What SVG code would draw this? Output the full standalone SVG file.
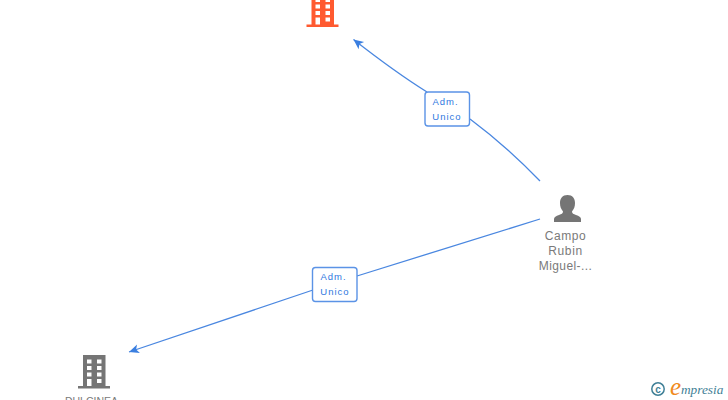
<svg xmlns="http://www.w3.org/2000/svg" width="728" height="400" viewBox="0 0 728 400">
<style>
.lbl{font-family:"Liberation Sans",Arial,sans-serif;font-size:9.5px;fill:#2f78e0;text-anchor:middle;letter-spacing:1px}
.nm{font-family:"Liberation Sans",Arial,sans-serif;font-size:12px;fill:#7a7a7a;text-anchor:middle;letter-spacing:.6px}
.box{fill:#fff;stroke:#5b93e6;stroke-width:1.4}
.edge{fill:none;stroke:#4a87e0;stroke-width:1.3}
</style>
<defs>
<g id="bld">
<path fill-rule="evenodd" d="M83 355H105.500V386H110V388.500H78V386H83ZM87 359.500V363.500H91.500V359.500ZM97 359.500V363.500H101.500V359.500ZM87 366V370H91.500V366ZM97 366V370H101.500V366ZM87 372.500V376.500H91.500V372.500ZM97 372.500V376.500H101.500V372.500ZM87 379V386H91.500V379ZM97 379V383H101.500V379Z"/>
</g>
<marker id="ah" viewBox="0 0 11 10" refX="0" refY="5" markerWidth="11" markerHeight="10" markerUnits="userSpaceOnUse" orient="auto"><path d="M0 5L10 0.500L7.500 5L10 9.500Z" fill="#3b7fe0"/></marker>
</defs>
<g id="connectors">
<path class="edge" marker-start="url(#ah)" d="M353.500 39.500Q395 72 427 92"/>
<path class="edge" d="M470 119Q505 145 540 181"/>
<path class="edge" marker-start="url(#ah)" d="M129 352L313 290"/>
<path class="edge" d="M357 276L540 219"/>
</g>
<g id="node-top"><use href="#bld" fill="#ff5a30" transform="translate(228.500 -361.500)"/></g>
<g id="node-dulcinea"><use href="#bld" fill="#757575"/><text class="nm" x="91.500" y="404.500" style="font-size:10.500px;letter-spacing:0">DULCINEA</text></g>
<g id="node-campo">
<path fill="#757575" d="M567.500 195C572.500 195 575 198.500 575 203C575 206.500 574 209 572 211.500C572 213.500 573.500 214 576 215C579 216 581 217 581 219V222H554V219C554 217 556 216 559 215C561.500 214 563 213.500 563 211.500C561 209 560 206.500 560 203C560 198.500 562.500 195 567.500 195Z"/>
<text class="nm" x="565.500" y="240">Campo</text>
<text class="nm" x="565.500" y="255">Rubin</text>
<text class="nm" x="565.500" y="270" style="letter-spacing:.4px">Miguel-...</text>
</g>
<g id="label-1"><rect class="box" x="425" y="92" width="44.500" height="34" rx="3"/><text class="lbl" x="445.500" y="105">Adm.</text><text class="lbl" x="447" y="120">Unico</text></g>
<g id="label-2"><rect class="box" x="312.500" y="267.500" width="44.500" height="34" rx="3"/><text class="lbl" x="333.500" y="280">Adm.</text><text class="lbl" x="335" y="295">Unico</text></g>
<g id="logo">
<circle cx="658" cy="389" r="6.200" fill="none" stroke="#3f7f96" stroke-width="1.500"/>
<text x="658" y="392.500" font-family="Liberation Sans,sans-serif" font-size="10" font-weight="bold" fill="#3f7f96" text-anchor="middle">c</text>
<text x="670" y="395" font-family="Liberation Serif,serif" font-size="25" font-style="italic" fill="#f08a1d">e</text>
<text x="681" y="394" font-family="Liberation Serif,serif" font-size="13.300" font-style="italic" fill="#3f7f96">mpresia</text>
</g>
</svg>
